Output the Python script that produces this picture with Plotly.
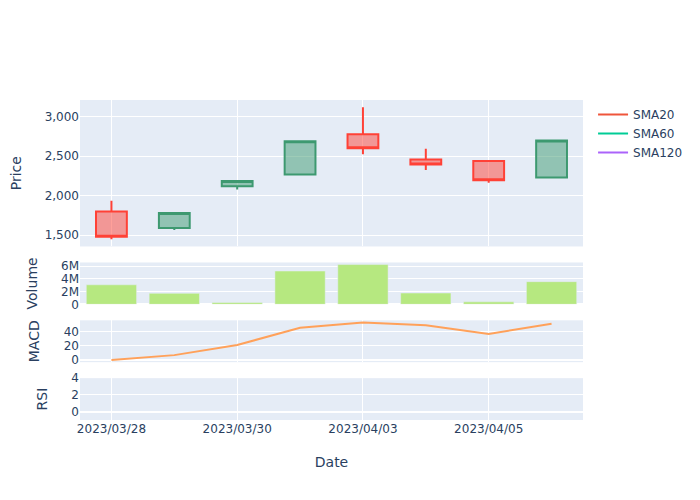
import plotly.graph_objects as go
from plotly.subplots import make_subplots

dates = ["2023/03/28", "2023/03/29", "2023/03/30", "2023/03/31",
         "2023/04/03", "2023/04/04", "2023/04/05", "2023/04/06"]
open_ = [1800, 1590, 2120, 2270, 2780, 2460, 2440, 2230]
high = [1935, 1780, 2185, 2690, 3120, 2595, 2440, 2700]
low = [1450, 1565, 2080, 2270, 2525, 2325, 2165, 2230]
close = [1480, 1780, 2185, 2690, 2600, 2395, 2195, 2700]
volume = [3.08e6, 1.73e6, 0.28e6, 5.25e6, 6.27e6, 1.78e6, 0.39e6, 3.57e6]
macd = [0, 7, 21.4, 45.7, 53.4, 49.5, 37, 51.4]
sma20 = [None] * 8
sma60 = [None] * 8
sma120 = [None] * 8
rsi = [None] * 8

fig = make_subplots(rows=4, cols=1, shared_xaxes=True, vertical_spacing=0.05,
                    row_heights=[0.7, 0.2, 0.2, 0.2])

fig.add_trace(go.Candlestick(x=dates, open=open_, high=high, low=low, close=close,
                             showlegend=False, name="Price"), row=1, col=1)
fig.add_trace(go.Scatter(x=dates, y=sma20, mode="lines", name="SMA20",
                         line=dict(color="#EF553B")), row=1, col=1)
fig.add_trace(go.Scatter(x=dates, y=sma60, mode="lines", name="SMA60",
                         line=dict(color="#00CC96")), row=1, col=1)
fig.add_trace(go.Scatter(x=dates, y=sma120, mode="lines", name="SMA120",
                         line=dict(color="#AB63FA")), row=1, col=1)
fig.add_trace(go.Bar(x=dates, y=volume, name="Volume", showlegend=False,
                     marker_color="#B6E880"), row=2, col=1)
fig.add_trace(go.Scatter(x=dates, y=macd, mode="lines", name="MACD", showlegend=False,
                         line=dict(color="#FFA15A")), row=3, col=1)
fig.add_trace(go.Scatter(x=dates, y=rsi, mode="lines", name="RSI", showlegend=False,
                         line=dict(color="#19D3F3")), row=4, col=1)

fig.update_xaxes(type="category", dtick=2, tickangle=0)
fig.update_layout(xaxis_rangeslider_visible=False, width=692, height=492,
                  margin=dict(l=72, t=92, b=80),
                  font=dict(family="DejaVu Sans"))
fig.update_yaxes(title_standoff=20, automargin=False)
fig.update_yaxes(title_text="Price", tickformat=",", row=1, col=1)
fig.update_yaxes(title_text="Volume", row=2, col=1)
fig.update_yaxes(title_text="MACD", row=3, col=1)
fig.update_yaxes(title_text="RSI", row=4, col=1)
fig.update_xaxes(title_text="Date", title_standoff=22, row=4, col=1)

fig.write_html("out.html")
